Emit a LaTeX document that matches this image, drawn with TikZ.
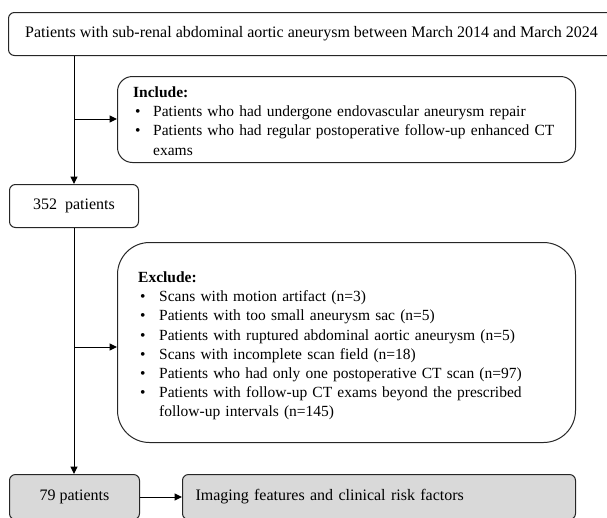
\documentclass[tikz,border=0pt]{standalone}
\usepackage{fontspec}
\setmainfont{Liberation Serif}
\usetikzlibrary{arrows.meta}
\newcommand{\bitemA}[1]{\mbox{\makebox[20pt][l]{\hspace{2pt}\textbullet}#1}}
\newcommand{\bcontA}[1]{\mbox{\hspace*{20pt}#1}}
\newcommand{\bitemB}[1]{\mbox{\makebox[21pt][l]{\hspace{2pt}\textbullet}#1}}
\newcommand{\bcontB}[1]{\mbox{\hspace*{21pt}#1}}
\begin{document}
\begin{tikzpicture}[x=1pt,y=-1pt,
  box/.style={draw=black!85,line width=1pt,inner sep=0pt,font=\fontsize{16}{19.2}\selectfont},
  graybox/.style={box,fill=black!15},
  listtext/.style={inner sep=0pt,align=left,font=\fontsize{15.5}{19.2}\selectfont},
  conn/.style={draw=black,line width=1pt},
  arr/.style={conn,-{Triangle[length=7.5pt,width=7pt]}}]
\useasboundingbox (0,0) rectangle (607,517);
\clip (0,0) rectangle (607,517);
\node[box,rounded corners=6pt,anchor=north west,minimum width=606pt,minimum height=43pt] (top) at (8,12) {Patients with sub-renal abdominal aortic aneurysm between March 2014 and March 2024};
\node[box,rounded corners=15pt,anchor=north west,minimum width=458pt,minimum height=86pt] (inc) at (117,76) {};
\node[listtext,text width=426pt,anchor=west,yshift=-1.5pt] (inctext) at ([xshift=16pt]inc.west)
 {\textbf{Include:}\\
  \bitemA{Patients who had undergone endovascular aneurysm repair}\\
  \bitemA{Patients who had regular postoperative follow-up enhanced CT}\\
  \bcontA{exams}};
\node[box,rounded corners=6pt,anchor=north west,minimum width=129pt,minimum height=43pt] (n352) at (9,184) {352~ patients};
\node[box,rounded corners=32pt,anchor=north west,minimum width=458pt,minimum height=200pt] (exc) at (117,242) {};
\node[listtext,text width=416pt,anchor=west,yshift=-3.5pt] (exctext) at ([xshift=21pt]exc.west)
 {\textbf{Exclude:}\\
  \bitemB{Scans with motion artifact (n=3)}\\
  \bitemB{Patients with too small aneurysm sac (n=5)}\\
  \bitemB{Patients with ruptured abdominal aortic aneurysm (n=5)}\\
  \bitemB{Scans with incomplete scan field (n=18)}\\
  \bitemB{Patients who had only one postoperative CT scan (n=97)}\\
  \bitemB{Patients with follow-up CT exams beyond the prescribed}\\
  \bcontB{follow-up intervals (n=145)}};
\node[graybox,rounded corners=6pt,anchor=north west,minimum width=130pt,minimum height=45pt] (n79) at (9,474) {79 patients};
\node[graybox,rounded corners=6pt,anchor=north west,minimum width=393pt,minimum height=45pt,text width=367pt,inner xsep=13pt,align=left] (img) at (182,474) {Imaging features and clinical risk factors};
\coordinate (j1) at (74,119);
\coordinate (j2) at (74,347);
\draw[arr] (top.south -| j1) -- (j1 |- n352.north);
\draw[arr] (j1) -- (j1 -| inc.west);
\draw[arr] (j1 |- n352.south) -- (j1 |- n79.north);
\draw[arr] (j2) -- (j2 -| exc.west);
\draw[arr] (n79.east) -- (img.west);
\end{tikzpicture}
\end{document}
